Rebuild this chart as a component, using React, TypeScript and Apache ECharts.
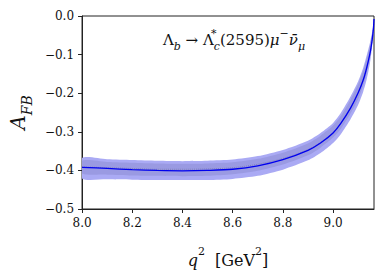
import { useEffect, useRef } from 'react';
import * as echarts from 'echarts';

// q^2 sample points (GeV^2)
const q2 = [8.0, 8.1, 8.2, 8.3, 8.4, 8.5, 8.6, 8.7, 8.8, 8.9, 8.95, 9.0, 9.03, 9.07, 9.1, 9.12, 9.134, 9.147, 9.155, 9.16, 9.163];
// central A_FB curve
const centerAFB = [-0.392, -0.395, -0.398, -0.4, -0.401, -0.4, -0.397, -0.388, -0.372, -0.348, -0.329, -0.303, -0.279, -0.238, -0.199, -0.166, -0.134, -0.097, -0.065, -0.038, -0.008];
// faint dotted curve
const dottedAFB = [-0.391, -0.393, -0.395, -0.397, -0.397, -0.396, -0.393, -0.384, -0.369, -0.346, -0.327, -0.302, -0.279, -0.238, -0.199, -0.166, -0.134, -0.097, -0.065, -0.038, -0.008];
// uncertainty band edges
const outerUpper = [-0.368, -0.371, -0.373, -0.375, -0.376, -0.375, -0.372, -0.363, -0.347, -0.323, -0.303, -0.277, -0.252, -0.208, -0.169, -0.134, -0.102, -0.069, -0.044, -0.025, -0.005];
const innerUpper = [-0.375, -0.378, -0.38, -0.382, -0.383, -0.382, -0.379, -0.37, -0.354, -0.33, -0.31, -0.284, -0.26, -0.216, -0.177, -0.142, -0.11, -0.076, -0.049, -0.028, -0.006];
const innerLower = [-0.408, -0.411, -0.413, -0.414, -0.415, -0.414, -0.41, -0.401, -0.385, -0.361, -0.341, -0.315, -0.293, -0.252, -0.215, -0.18, -0.148, -0.109, -0.073, -0.041, -0.008];
const outerLower = [-0.421, -0.423, -0.424, -0.425, -0.425, -0.425, -0.422, -0.414, -0.398, -0.374, -0.355, -0.329, -0.307, -0.267, -0.23, -0.196, -0.164, -0.122, -0.082, -0.047, -0.009];

const xTicks = [8.0, 8.2, 8.4, 8.6, 8.8, 9.0];
const xMin = 8.0;
const xMax = 9.163;
const yMin = -0.5;
const yMax = 0.0;
const yStep = 0.1;

export default function App() {
  const ref = useRef<HTMLDivElement>(null);

  useEffect(() => {
    const chart = echarts.init(ref.current!, null, { renderer: 'svg' });
    const font = 'DejaVu Serif';
    const pts = (ys: number[]) => q2.map((x, i) => [x, ys[i]]);
    const light = '#aaaaf4';
    const dark = '#9a9ae2';

    const band = (upper: number[], lower: number[], color: string, z: number) => ({
      type: 'custom',
      silent: true,
      clip: true,
      z,
      data: [[xMin, yMin]],
      renderItem: (params: any, api: any) => {
        if (params.dataIndex !== 0) return null;
        const top = q2.map((x, i) => api.coord([x, upper[i]]));
        const bottom = q2.map((x, i) => api.coord([x, lower[i]])).reverse();
        return {
          type: 'polygon',
          shape: { points: top.concat(bottom), smooth: 0.25 },
          style: { fill: color, stroke: 'none' },
        };
      },
    });

    chart.setOption({
      animation: false,
      textStyle: { fontFamily: font },
      grid: {
        left: 78,
        right: 16,
        top: 16,
        bottom: 55,
        show: true,
        borderColor: '#222',
        borderWidth: 1,
        backgroundColor: 'transparent',
      },
      xAxis: {
        type: 'value',
        min: xMin,
        max: xMax,
        name: '{i|q}{s|2}{n|  [GeV}{s|2}{n|]}',
        nameLocation: 'middle',
        nameGap: 37,
        nameTextStyle: {
          color: '#111',
          fontFamily: font,
          fontSize: 16,
          rich: {
            i: { fontFamily: font, fontSize: 16, fontStyle: 'italic', color: '#111', verticalAlign: 'bottom', lineHeight: 22 },
            n: { fontFamily: font, fontSize: 16, color: '#111', verticalAlign: 'bottom', lineHeight: 22 },
            s: { fontFamily: font, fontSize: 11, color: '#111', verticalAlign: 'top', lineHeight: 12 },
          },
        },
        axisLine: { show: true, onZero: false, lineStyle: { color: '#222', width: 1 } },
        axisTick: { show: true, inside: false, length: 4, customValues: xTicks, lineStyle: { color: '#222', width: 1 } },
        axisLabel: {
          customValues: xTicks,
          margin: 8,
          color: '#111',
          fontFamily: font,
          fontSize: 12,
          formatter: (v: number) => v.toFixed(1),
        },
        splitLine: { show: false },
      },
      yAxis: {
        type: 'value',
        min: yMin,
        max: yMax,
        interval: yStep,
        name: '{a|A}{s|FB}',
        nameLocation: 'middle',
        nameRotate: 90,
        nameGap: 38,
        nameTextStyle: {
          color: '#111',
          fontFamily: font,
          rich: {
            a: { fontFamily: font, fontSize: 20, fontStyle: 'italic', color: '#111', verticalAlign: 'top', lineHeight: 26 },
            s: { fontFamily: font, fontSize: 14, fontStyle: 'italic', color: '#111', verticalAlign: 'bottom', lineHeight: 14 },
          },
        },
        axisLine: { show: true, onZero: false, lineStyle: { color: '#222', width: 1 } },
        axisTick: { show: true, inside: false, length: 4, lineStyle: { color: '#222', width: 1 } },
        axisLabel: {
          margin: 8,
          color: '#111',
          fontFamily: font,
          fontSize: 12,
          formatter: (v: number) => (Math.abs(v) < 1e-9 ? '0.0' : '\u2212' + Math.abs(v).toFixed(1)),
        },
        splitLine: { show: false },
      },
      graphic: [
        {
          type: 'text',
          x: 234,
          y: 40,
          silent: true,
          style: {
            text: '{m|\u039B}{sbi|b}{m| \u2192 \u039B}{sp|*}{sbi|c}{m|(2595)}{mi|\u03BC}{sp2|\u2212}{mi|\u03BD\u0304}{sbi|\u03BC}',
            align: 'center',
            verticalAlign: 'middle',
            fill: '#111',
            fontFamily: font,
            rich: {
              m: { fontFamily: font, fontSize: 15, fill: '#111', verticalAlign: 'middle', lineHeight: 24 },
              mi: { fontFamily: font, fontSize: 15, fontStyle: 'italic', fill: '#111', verticalAlign: 'middle', lineHeight: 24 },
              sbi: { fontFamily: font, fontSize: 11, fontStyle: 'italic', fill: '#111', verticalAlign: 'bottom', lineHeight: 14 },
              sp: { fontFamily: font, fontSize: 11, fill: '#111', verticalAlign: 'top', lineHeight: 14, width: 0 },
              sp2: { fontFamily: font, fontSize: 11, fill: '#111', verticalAlign: 'top', lineHeight: 14 },
            },
          },
        },
      ],
      series: [
        band(outerUpper, outerLower, light, 1),
        band(innerUpper, innerLower, dark, 2),
        {
          type: 'line',
          name: 'dotted',
          z: 3,
          data: pts(dottedAFB),
          symbol: 'none',
          smooth: 0.3,
          silent: true,
          lineStyle: { color: '#7a7ab0', width: 1, type: 'dotted', opacity: 0.8 },
        },
        {
          type: 'line',
          name: 'central',
          z: 4,
          data: pts(centerAFB),
          symbol: 'none',
          smooth: 0.3,
          silent: true,
          lineStyle: { color: '#0000ee', width: 1.3 },
        },
      ],
    });

    return () => chart.dispose();
  }, []);

  return <div ref={ref} style={{ position: 'absolute', left: 0, top: 0, width: 390, height: 273 }} />;
}
